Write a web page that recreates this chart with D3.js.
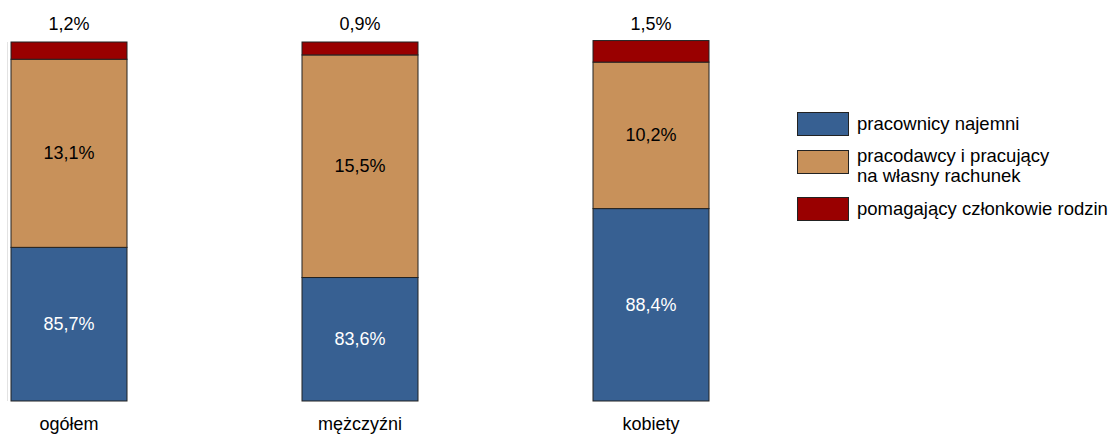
<!DOCTYPE html>
<html>
<head>
<meta charset="utf-8">
<script src="https://cdn.jsdelivr.net/npm/d3@7"></script>
<style>
  body { margin: 0; background: #fff; }
  svg text { font-family: "Liberation Sans", Arial, sans-serif; font-size: 18px; }
  svg .legend text { font-size: 18.5px; }
</style>
</head>
<body>
<div id="chart"></div>
<script>
// data
var categories = ["ogółem", "mężczyźni", "kobiety"];
var seriesNames = ["pracownicy najemni", "pracodawcy i pracujący\nna własny rachunek", "pomagający członkowie rodzin"];
var najemni = [85.7, 83.6, 88.4];
var pracodawcy = [13.1, 15.5, 10.2];
var pomagajacy = [1.2, 0.9, 1.5];
var colors = ["#376092", "#c8915a", "#990000"];

var width = 1111, height = 434;
var margin = { top: 42, left: 11, bottom: 33, right: 0 };
var plotH = height - margin.top - margin.bottom;

var svg = d3.select("#chart").append("svg")
  .attr("width", width)
  .attr("height", height);

var x = d3.scaleBand()
  .domain(categories)
  .range([margin.left, 709])
  .paddingInner(175 / 291)
  .paddingOuter(0);

// axis starts at 75%
var y = d3.scaleLinear()
  .domain([75, 100])
  .range([margin.top + plotH, margin.top]);

var rows = categories.map(function (c, i) {
  return { cat: c, values: [najemni[i], pracodawcy[i], pomagajacy[i]] };
});
var stack = d3.stack().keys([0, 1, 2]).value(function (d, k) { return d.values[k]; });
var series = stack(rows);

// faint axis line
svg.append("line")
  .attr("x1", 7.5).attr("x2", 7.5)
  .attr("y1", y(100)).attr("y2", y(75))
  .attr("stroke", "#e3e3e3");

var g = svg.append("g");
series.forEach(function (s, si) {
  g.selectAll(".bar" + si)
    .data(s)
    .enter().append("rect")
    .attr("x", function (d) { return x(d.data.cat); })
    .attr("width", x.bandwidth())
    .attr("y", function (d) { return y(d[1]); })
    .attr("height", function (d) { return y(Math.max(d[0], 75)) - y(d[1]); })
    .attr("fill", colors[si])
    .attr("stroke", "#222")
    .attr("stroke-width", 1);
});

function fmt(v) { return v.toFixed(1).replace(".", ",") + "%"; }

// labels inside blue and orange
series.slice(0, 2).forEach(function (s, si) {
  g.selectAll(".lbl" + si)
    .data(s)
    .enter().append("text")
    .attr("x", function (d) { return x(d.data.cat) + x.bandwidth() / 2; })
    .attr("y", function (d) { return (y(Math.max(d[0], 75)) + y(d[1])) / 2 + 6; })
    .attr("text-anchor", "middle")
    .attr("fill", si === 0 ? "#fff" : "#000")
    .text(function (d) { return fmt(d.data.values[si]); });
});

// red labels above bars
g.selectAll(".lbl2")
  .data(series[2])
  .enter().append("text")
  .attr("x", function (d) { return x(d.data.cat) + x.bandwidth() / 2; })
  .attr("y", y(100) - 12)
  .attr("text-anchor", "middle")
  .attr("fill", "#000")
  .text(function (d) { return fmt(d.data.values[2]); });

// category labels
g.selectAll(".cat")
  .data(categories)
  .enter().append("text")
  .attr("x", function (d) { return x(d) + x.bandwidth() / 2; })
  .attr("y", 430)
  .attr("text-anchor", "middle")
  .text(function (d) { return d; });

// legend
var legendY = [112, 150, 197];
var textY = [130, 162, 215];
var legend = svg.append("g").attr("class", "legend");
seriesNames.forEach(function (name, i) {
  legend.append("rect")
    .attr("x", 797.5).attr("y", legendY[i] + 0.5)
    .attr("width", 51).attr("height", 23)
    .attr("fill", colors[i])
    .attr("stroke", "#222");
  var t = legend.append("text")
    .attr("x", 857)
    .attr("y", textY[i]);
  name.split("\n").forEach(function (line, j) {
    t.append("tspan")
      .attr("x", 857)
      .attr("dy", j === 0 ? 0 : 20)
      .text(line);
  });
});
</script>
</body>
</html>
